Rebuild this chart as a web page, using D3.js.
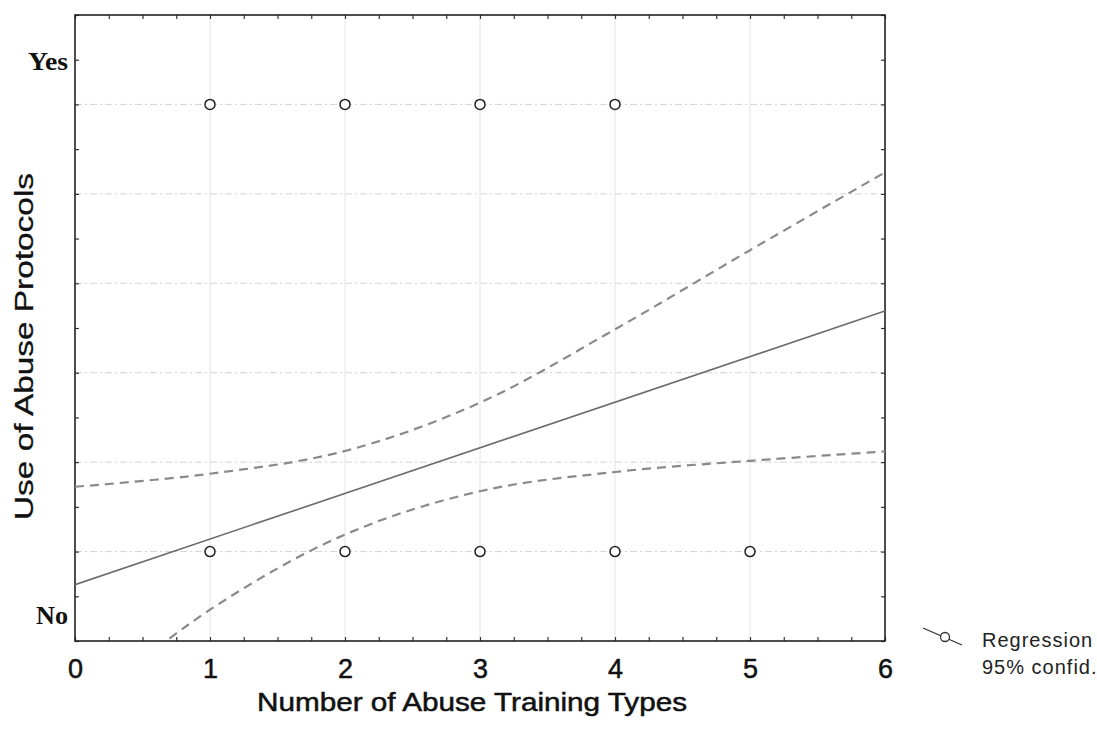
<!DOCTYPE html>
<html>
<head>
<meta charset="utf-8">
<script src="https://cdn.jsdelivr.net/npm/d3@7"></script>
<style>
  html, body { margin: 0; padding: 0; background: #fff; }
  svg { display: block; }
</style>
</head>
<body>
<svg id="chart" width="1097" height="730"></svg>
<script>
// ---- data ----
const xTicks = [0, 1, 2, 3, 4, 5, 6];
const yGrid = [0, 0.2, 0.4, 0.6, 0.8, 1.0];
const yCatLabels = ["Yes", "No"];
const yCatValues = [1.1, -0.14];
const yesX = [1, 2, 3, 4];
const yesY = [1, 1, 1, 1];
const noX = [1, 2, 3, 4, 5];
const noY = [0, 0, 0, 0, 0];
const fitX = [0, 6];
const fitY = [-0.074, 0.538];
const ciX = [0, 1, 2, 3, 4, 5, 6];
const ciUpper = [0.145, 0.174, 0.225, 0.333, 0.497, 0.674, 0.848];
const ciLower = [-0.36, -0.13, 0.038, 0.135, 0.178, 0.203, 0.224];
const legendLabels = ["Regression", "95% confid."];

// ---- layout ----
const svg = d3.select("#chart");
const L = 75, R = 885, T = 15, B = 641;
const x = d3.scaleLinear().domain([0, 6]).range([L, R]);
const y = d3.scaleLinear().domain([-0.2, 1.2]).range([B, T]);

svg.append("defs").append("clipPath").attr("id", "plotclip")
  .append("rect").attr("x", L).attr("y", T).attr("width", R - L).attr("height", B - T);

// grid
const grid = svg.append("g");
grid.selectAll("line.hg").data(yGrid).join("line")
  .attr("x1", L).attr("x2", R)
  .attr("y1", d => y(d)).attr("y2", d => y(d))
  .attr("stroke", "#d4d4d4").attr("stroke-width", 1)
  .attr("stroke-dasharray", "7,3,2,3");
grid.selectAll("line.vg").data(xTicks.slice(1, -1)).join("line")
  .attr("x1", d => x(d)).attr("x2", d => x(d))
  .attr("y1", T).attr("y2", B)
  .attr("stroke", "#e4e4e4").attr("stroke-width", 1);

// axes with inward ticks (all four sides)
const xMinor = d3.range(0, 6.001, 0.25);
const yMinor = d3.range(-0.2, 1.2001, 0.1);
function tickAxis(axisFn, scale, vals, size, transform) {
  svg.append("g").attr("transform", transform)
    .call(axisFn(scale).tickValues(vals).tickSize(size).tickFormat(""))
    .call(g => g.select(".domain").remove())
    .call(g => g.selectAll("line").attr("stroke", "#333").attr("stroke-width", 1.2));
}
tickAxis(d3.axisTop, x, xMinor, 4, `translate(0,${B})`);
tickAxis(d3.axisBottom, x, xMinor, 4, `translate(0,${T})`);
tickAxis(d3.axisRight, y, yMinor, 4, `translate(${L},0)`);
tickAxis(d3.axisLeft, y, yMinor, 4, `translate(${R},0)`);

// x tick labels
svg.append("g").attr("transform", `translate(0,${B})`)
  .call(d3.axisBottom(x).tickValues(xTicks).tickSize(0).tickPadding(0).tickFormat(d3.format("d")))
  .call(g => g.select(".domain").remove())
  .call(g => g.selectAll("text")
    .attr("dy", null).attr("y", 37)
    .attr("font-family", "Liberation Sans, Arial, sans-serif")
    .attr("font-size", 27).attr("fill", "#111")
    .attr("stroke", "#111").attr("stroke-width", 0.5));

// y category labels
const catLen = [40, 32];
svg.append("g").selectAll("text").data(yCatLabels).join("text")
  .attr("x", (d, i) => 68 - catLen[i]).attr("y", (d, i) => y(yCatValues[i]) + 10)
  .attr("textLength", (d, i) => catLen[i]).attr("lengthAdjust", "spacingAndGlyphs")
  .attr("font-family", "Liberation Serif, Times New Roman, serif")
  .attr("font-weight", "bold").attr("font-size", 26).attr("fill", "#111")
  .text(d => d);

// frame
svg.append("rect").attr("x", L).attr("y", T).attr("width", R - L).attr("height", B - T)
  .attr("fill", "none").attr("stroke", "#222").attr("stroke-width", 1.6);

// CI and regression
const plot = svg.append("g").attr("clip-path", "url(#plotclip)");
const ciLine = d3.line().x(d => x(d[0])).y(d => y(d[1])).curve(d3.curveCatmullRom);
plot.append("path").datum(ciX.map((v, i) => [v, ciUpper[i]]))
  .attr("d", ciLine).attr("fill", "none").attr("stroke", "#8a8a8a")
  .attr("stroke-width", 2.2).attr("stroke-dasharray", "9,6");
plot.append("path").datum(ciX.map((v, i) => [v, ciLower[i]]))
  .attr("d", ciLine).attr("fill", "none").attr("stroke", "#8a8a8a")
  .attr("stroke-width", 2.2).attr("stroke-dasharray", "9,6");
plot.append("path").datum(fitX.map((v, i) => [v, fitY[i]]))
  .attr("d", d3.line().x(d => x(d[0])).y(d => y(d[1])))
  .attr("fill", "none").attr("stroke", "#6a6a6a").attr("stroke-width", 1.6);

// points
const pts = yesX.map((v, i) => [v, yesY[i]]).concat(noX.map((v, i) => [v, noY[i]]));
plot.selectAll("circle").data(pts).join("circle")
  .attr("cx", d => x(d[0])).attr("cy", d => y(d[1])).attr("r", 5)
  .attr("fill", "#fff").attr("stroke", "#222").attr("stroke-width", 1.5);

// axis titles
svg.append("text").attr("x", 257).attr("y", 711)
  .attr("textLength", 430).attr("lengthAdjust", "spacingAndGlyphs")
  .attr("font-family", "Liberation Sans, Arial, sans-serif")
  .attr("font-size", 25).attr("fill", "#111")
  .attr("stroke", "#111").attr("stroke-width", 0.5)
  .text("Number of Abuse Training Types");
svg.append("text")
  .attr("transform", `translate(33,520) rotate(-90)`)
  .attr("textLength", 347).attr("lengthAdjust", "spacingAndGlyphs")
  .attr("font-family", "Liberation Sans, Arial, sans-serif")
  .attr("font-size", 25).attr("fill", "#111")
  .attr("stroke", "#111").attr("stroke-width", 0.3)
  .text("Use of Abuse Protocols");

// legend
const lg = svg.append("g");
lg.append("line").attr("x1", 923).attr("y1", 628).attr("x2", 962).attr("y2", 645)
  .attr("stroke", "#333").attr("stroke-width", 1.3);
lg.append("circle").attr("cx", 945).attr("cy", 637).attr("r", 4.5)
  .attr("fill", "#fff").attr("stroke", "#333").attr("stroke-width", 1.3);
lg.selectAll("text").data(legendLabels).join("text")
  .attr("x", 982).attr("y", (d, i) => 647 + i * 27)
  .attr("font-family", "Liberation Sans, Arial, sans-serif")
  .attr("font-size", 20).attr("letter-spacing", 1).attr("fill", "#222")
  .text(d => d);
</script>
</body>
</html>
